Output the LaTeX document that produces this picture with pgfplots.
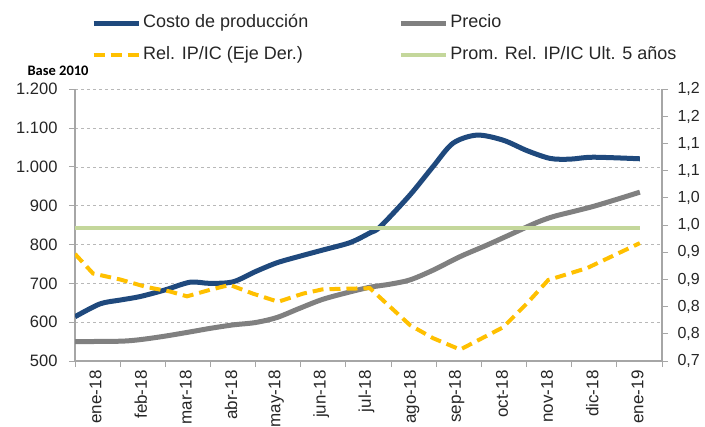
\documentclass[border=0pt]{standalone}
\usepackage{fontspec}
\setmainfont{Liberation Sans}
\newfontfamily\carlito{Carlito}
\usepackage{pgfplots}
\pgfplotsset{compat=1.18}

\definecolor{costo}{RGB}{31,73,125}
\definecolor{precio}{RGB}{128,128,128}
\definecolor{relip}{RGB}{255,192,0}
\definecolor{prom}{RGB}{196,215,155}
\definecolor{axisgray}{RGB}{166,166,166}

\pgfplotsset{
  twin/.style={
    at={(0,0)}, anchor=south west,
    scale only axis, width=587bp, height=271.7bp,
    xmin=0, xmax=13,
    axis line style={axisgray, line width=1.2bp},
    tick align=outside, major tick length=6bp,
    tick style={axisgray, line width=1bp},
    ticklabel style={text=black!85},
  },
}

\begin{document}
\begin{tikzpicture}
\path[use as bounding box] (-75bp,-66bp) rectangle (630bp,361bp);

\begin{axis}[
  twin, name=main,
  ymin=500, ymax=1200,
  axis x line*=bottom, axis y line*=left,
  xtick={0,...,13},
  x tick label as interval,
  xticklabels={ene-18,feb-18,mar-18,abr-18,may-18,jun-18,jul-18,ago-18,sep-18,oct-18,nov-18,dic-18,ene-19},
  xticklabel style={rotate=90, anchor=east, yshift=2bp, font=\fontsize{17bp}{19bp}\selectfont},
  ytick={500,600,...,1200},
  yticklabels={500,600,700,800,900,1.000,1.100,1.200},
  yticklabel style={xshift=-8bp, font=\fontsize{16.5bp}{18bp}\selectfont},
  ymajorgrids,
  grid style={axisgray!80, dash pattern=on 3bp off 3bp, line width=0.8bp},
  legend image code/.code={\draw[#1] (0bp,0bp) -- (45bp,0bp);},
  legend style={at={(0,1)}, anchor=north west, xshift=16bp, yshift=77bp,
    draw=none, fill=none, inner sep=0pt,
    font=\fontsize{18bp}{20bp}\selectfont, text=black!85,
    legend columns=2, row sep=11bp,
    /tikz/every even column/.append style={column sep=88bp},
    nodes={inner sep=2bp, text height=13bp, text depth=4bp}},
  legend cell align=left,
]
\addplot[costo, line width=5bp, smooth] coordinates {
  (0,614) (0.55,647) (1.0,657) (1.44,666) (1.99,683) (2.55,703) (2.99,700)
  (3.50,704) (3.99,730) (4.47,753) (4.98,770) (5.49,786) (6.09,805)
  (6.53,830) (6.76,846) (7.42,928) (7.93,1001) (8.37,1061) (8.90,1082)
  (9.48,1069) (10.01,1042) (10.52,1022) (10.96,1020) (11.47,1025) (12.51,1021)
};
\addlegendentry{Costo de producción}
\addplot[precio, line width=5bp, smooth] coordinates {
  (0,550) (1.0,551) (1.44,555) (1.99,564) (2.55,575) (2.99,584) (3.50,593)
  (3.99,599) (4.47,612) (4.98,636) (5.49,659) (6.09,678) (6.53,690)
  (6.98,698) (7.42,709) (7.93,734) (8.53,769) (9.13,799) (9.70,829)
  (10.23,857) (10.59,872) (11.03,885) (11.47,898) (12.07,919) (12.51,935)
};
\addlegendentry{Precio}
\addlegendimage{relip, line width=4bp, dash pattern=on 11bp off 6bp}
\addlegendentry{Rel. IP/IC (Eje Der.)}
\addplot[prom, line width=4bp] coordinates {(0,843) (12.51,843)};
\addlegendentry{Prom. Rel. IP/IC Ult. 5 años}
\end{axis}

\begin{axis}[
  twin,
  ymin=0.7, ymax=1.2,
  axis x line=none, axis y line*=right,
  ytick={0.70,0.75,0.80,0.85,0.90,0.95,1.00,1.05,1.10,1.15,1.20},
  yticklabels={{0,7},{0,8},{0,8},{0,9},{0,9},{1,0},{1,0},{1,1},{1,1},{1,2},{1,2}},
  yticklabel style={xshift=6bp, font=\fontsize{16bp}{18bp}\selectfont},
]
\addplot[relip, line width=4bp, dash pattern=on 11bp off 6bp] coordinates {
  (0,0.897) (0.40,0.861) (1.0,0.850) (1.59,0.836) (2.10,0.828) (2.48,0.819)
  (2.99,0.831) (3.43,0.840) (3.94,0.824) (4.50,0.809) (5.05,0.824)
  (5.49,0.832) (6.53,0.834) (7.42,0.766) (7.93,0.742) (8.53,0.721)
  (9.48,0.762) (10.01,0.806) (10.48,0.849) (11.34,0.871) (12.51,0.917)
};
\end{axis}

\node[anchor=west, text=black, font={\fontsize{14.5bp}{16bp}\carlito\bfseries}]
  at ([xshift=-51bp, yshift=19bp]main.north west) {Base 2010};
\end{tikzpicture}
\end{document}
